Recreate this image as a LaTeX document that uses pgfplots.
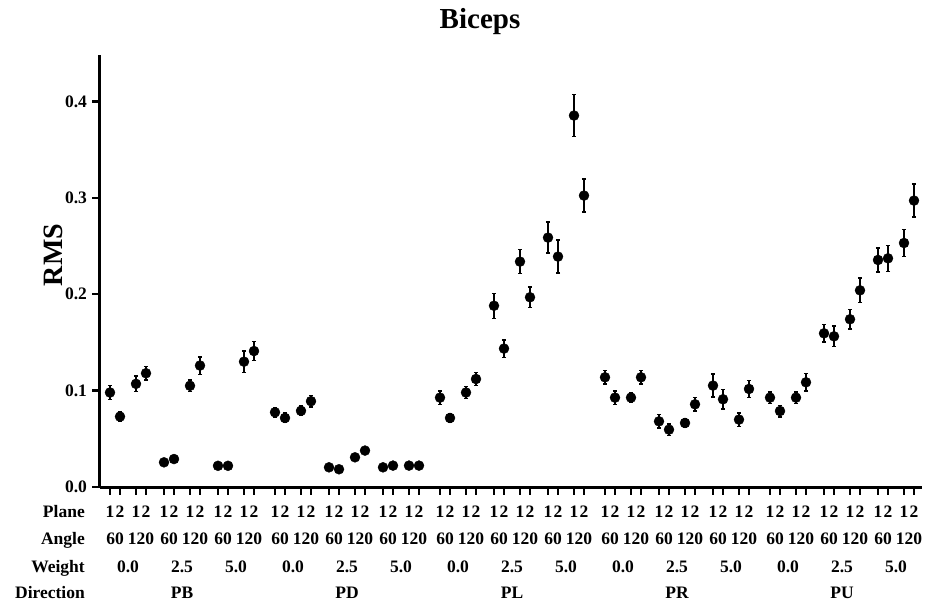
\documentclass[border=0pt]{standalone}
\usepackage{pgfplots}
\usepackage{pgfplotstable}
\pgfplotsset{compat=1.18}
\usepackage{fontspec}
\setmainfont{Liberation Serif}
\newcommand\lab{\fontsize{17.5}{20}\selectfont\bfseries}
\pgfplotstableread{
x y e
0 0.098 0.007
10 0.073 0.005
26 0.107 0.008
36 0.118 0.007
54 0.0256 0.001
64 0.029 0.001
80 0.105 0.006
90 0.126 0.009
108 0.022 0.001
118 0.022 0.001
134 0.130 0.011
144 0.141 0.010
165 0.0775 0.005
175 0.0716 0.005
191 0.079 0.005
201 0.089 0.006
219 0.0204 0.001
229 0.0184 0.001
245 0.0308 0.001
255 0.0378 0.001
273 0.0204 0.001
283 0.0222 0.001
299 0.0222 0.001
309 0.0222 0.001
330 0.0927 0.007
340 0.0716 0.004
356 0.098 0.006
366 0.112 0.007
384 0.188 0.013
394 0.1436 0.009
410 0.2338 0.0126
420 0.1968 0.0107
438 0.2587 0.016
448 0.239 0.017
464 0.3853 0.022
474 0.3023 0.017
495 0.1138 0.007
505 0.0927 0.007
521 0.0927 0.005
531 0.1138 0.007
549 0.0681 0.007
559 0.0595 0.006
575 0.0664 0.004
585 0.0858 0.007
603 0.1052 0.012
613 0.091 0.010
629 0.0699 0.007
639 0.1017 0.009
660 0.0927 0.006
670 0.0788 0.006
686 0.0927 0.006
696 0.1086 0.009
714 0.1594 0.009
724 0.1563 0.0107
740 0.174 0.010
750 0.204 0.0128
768 0.2355 0.0124
778 0.2372 0.0135
794 0.2531 0.014
804 0.2971 0.017
}\biceps
\begin{document}
\begin{tikzpicture}[x=1pt,y=1pt]
\begin{axis}[
  name=ax,
  at={(0pt,0pt)}, anchor=origin,
  scale only axis, width=822pt, height=431.9pt,
  xmin=-10, xmax=812, ymin=0, ymax=0.448,
  axis lines=left,
  axis line style={-, line width=3pt},
  tick align=outside,
  major tick length=7.5pt,
  tick style={line width=2.5pt, black},
  xtick=data, xticklabels={},
  ytick={0,0.1,0.2,0.3,0.4},
  yticklabel style={font=\lab, xshift=-2pt},
  /pgf/number format/.cd, fixed, fixed zerofill, precision=1, assume math mode=true,
  /pgfplots/.cd,
  clip=false,
]
\addplot[only marks, mark=*, mark size=5pt, black,
  error bars/.cd, y dir=both, y explicit,
  error mark=-,
  error bar style={line width=1.6pt, black},
  error mark options={rotate=90, line width=1.4pt, mark size=2.2pt, black}]
  table[x=x, y=y, y error=e] {\biceps};
\end{axis}
\begin{scope}[shift={(ax.origin)}, xshift=-110pt, yshift=487pt]
\node[anchor=base, font=\fontsize{29}{34}\selectfont\bfseries] at (480,-29) {Biceps};
\node[anchor=base, rotate=90, font=\fontsize{28}{33}\selectfont\bfseries] at (63,-255) {RMS};
\node[anchor=base east, font=\lab, inner sep=0pt] at (85,-517) {Plane};
\node[anchor=base east, font=\lab, inner sep=0pt] at (85,-544) {Angle};
\node[anchor=base east, font=\lab, inner sep=0pt] at (85,-572) {Weight};
\node[anchor=base east, font=\lab, inner sep=0pt] at (85,-598) {Direction};
\foreach \d in {0,...,4} {
  \foreach \w in {0,1,2} {
    \foreach \a in {0,1} {
      \pgfmathsetmacro\xa{115+\d*165+\w*54+\a*26}
      \node[anchor=base, font=\lab, inner sep=0pt] at (\xa,-544) {\ifnum\a=0 60\else 120\fi};
      \foreach \p in {0,1} {
        \pgfmathsetmacro\xp{110+\d*165+\w*54+\a*26+\p*10}
        \node[anchor=base, font=\lab, inner sep=0pt] at (\xp,-517) {\ifnum\p=0 1\else 2\fi};
      }
    }
  }
  \foreach \w/\t in {0/0.0,1/2.5,2/5.0} {
    \pgfmathsetmacro\xw{128+\d*165+\w*54}
    \node[anchor=base, font=\lab, inner sep=0pt] at (\xw,-572) {\t};
  }
}
\foreach \d/\t in {0/PB,1/PD,2/PL,3/PR,4/PU} {
  \pgfmathsetmacro\xd{182+\d*165}
  \node[anchor=base, font=\lab, inner sep=0pt] at (\xd,-598) {\t};
}
\pgfresetboundingbox
\useasboundingbox (0,0) rectangle (942,-605);
\end{scope}
\end{tikzpicture}
\end{document}
